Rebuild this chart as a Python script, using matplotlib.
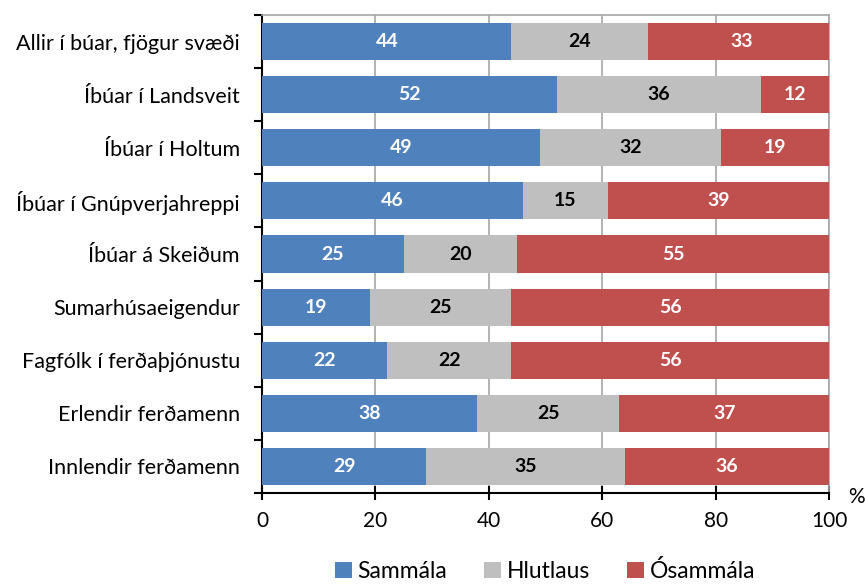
import matplotlib
matplotlib.use("Agg")
import matplotlib.pyplot as plt
import numpy as np

categories = ["Allir í búar, fjögur svæði", "Íbúar í Landsveit", "Íbúar í Holtum",
              "Íbúar í Gnúpverjahreppi", "Íbúar á Skeiðum", "Sumarhúsaeigendur",
              "Fagfólk í ferðaþjónustu", "Erlendir ferðamenn", "Innlendir ferðamenn"]
sammala = [44, 52, 49, 46, 25, 19, 22, 38, 29]
hlutlaus = [24, 36, 32, 15, 20, 25, 22, 25, 35]
osammala = [33, 12, 19, 39, 55, 56, 56, 37, 36]
series_names = ["Sammála", "Hlutlaus", "Ósammála"]
colors = ["#4F81BD", "#BFBFBF", "#C0504D"]
text_colors = ["white", "black", "white"]

plt.rcParams['font.family'] = ['Lato', 'DejaVu Sans']

fig = plt.figure(figsize=(8.65, 5.84), dpi=100)
ax = fig.add_axes([0.3029, 0.1558, 0.6555, 0.8185])

y = np.arange(len(categories))
left = np.zeros(len(categories))
for vals, name, c, tc in zip([sammala, hlutlaus, osammala], series_names, colors, text_colors):
    ax.barh(y, vals, left=left, height=0.7, color=c, label=name, zorder=3)
    for yi, l, v in zip(y, left, vals):
        ax.text(l + v / 2, yi, str(v), ha='center', va='center', color=tc,
                fontsize=14, fontweight='bold', zorder=4)
    left = left + np.array(vals)

ax.set_ylim(len(categories) - 0.5, -0.5)
ax.set_xlim(0, 100)
ax.set_xticks([0, 20, 40, 60, 80, 100])
ax.set_yticks(y)
ax.set_yticklabels(categories, fontsize=15.5)
ax.tick_params(axis='y', length=0, pad=16)
ax.set_yticks(np.arange(-0.5, len(categories), 1), minor=True)
ax.tick_params(axis='y', which='minor', length=6, width=1.5, direction='out')
ax.tick_params(axis='x', labelsize=15, direction='inout', length=10, width=1.5, pad=8)
ax.grid(axis='x', color='#A6A6A6', linewidth=1.2, zorder=0)
for s in ['top', 'right']:
    ax.spines[s].set_color('#A6A6A6')
    ax.spines[s].set_linewidth(1.2)
for s in ['left', 'bottom']:
    ax.spines[s].set_color('black')
    ax.spines[s].set_linewidth(1.5)

fig.text(856 / 865, 1 - 497 / 584, "%", fontsize=15, ha='center', va='center')

ax.legend(loc='center', bbox_to_anchor=(545 / 865, 1 - 571 / 584), bbox_transform=fig.transFigure,
          ncol=3, frameon=False,
          fontsize=16.5, handlelength=0.75, handleheight=0.75, handletextpad=0.25,
          columnspacing=1.6, borderpad=0.1)

fig.savefig("out.png", dpi=100)
